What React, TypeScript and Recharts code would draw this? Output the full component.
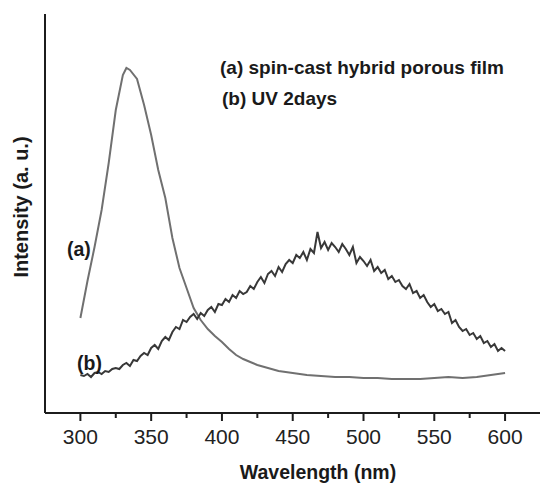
import { LineChart, Line, XAxis, YAxis } from 'recharts';

// wavelength (nm) grid for curve (a), smooth spectrum
const A_WL = [
  300, 305, 310, 315, 320, 325, 330, 332.5, 335, 340, 345, 350, 355, 360, 365, 370, 375, 380, 385, 390,
  395, 400, 405, 410, 415, 420, 425, 430, 440, 450, 460, 470, 480, 490, 500, 510, 520, 530, 540, 550,
  560, 570, 580, 590, 600,
];
const A_VAL = [
  95, 132, 166, 203, 250, 303, 338, 345, 343, 334, 308, 278, 243, 215, 175, 145, 125, 105, 93, 84,
  77, 71, 64, 58, 54, 51, 48, 46, 42, 40, 38, 37, 36, 36, 35, 35, 34, 34, 34, 35,
  36, 35, 36, 38, 40,
];

// curve (b) sampled every 2.5 nm from 300 to 600
const B_START = 300;
const B_STEP = 2.5;
const B_VAL = [
  38, 37, 39, 36, 40, 41, 39, 42, 41, 44,
  45, 44, 48, 50, 47, 53, 52, 57, 60, 58,
  65, 68, 64, 72, 76, 73, 81, 86, 84, 93,
  91, 96, 99, 94, 100, 97, 103, 106, 101, 109,
  108, 114, 111, 118, 115, 122, 119, 121, 127, 124,
  131, 136, 130, 139, 142, 137, 146, 141, 149, 153,
  150, 158, 155, 161, 153, 164, 160, 181, 165, 171,
  163, 170, 166, 161, 169, 164, 158, 166, 150, 156,
  152, 147, 153, 142, 146, 140, 143, 134, 137, 131,
  133, 127, 124, 129, 120, 122, 115, 118, 111, 106,
  109, 102, 104, 99, 101, 90, 93, 86, 82, 84,
  78, 80, 74, 77, 70, 72, 66, 69, 62, 65,
  62,
];

const X_TICKS = [300, 325, 350, 375, 400, 425, 450, 475, 500, 525, 550, 575, 600];

const dataA = A_WL.map((wl, i) => ({ wl, v: A_VAL[i] }));
const dataB = B_VAL.map((v, i) => ({ wl: B_START + i * B_STEP, v }));

const AXIS = '#1c1c1c';
const FONT = '"Liberation Sans", Arial, sans-serif';

function WaveTick(props: any) {
  const { x, y, payload } = props;
  const major = payload.value % 50 === 0;
  return (
    <g>
      <line x1={x} x2={x} y1={y} y2={y + (major ? 8 : 5)} stroke={AXIS} strokeWidth={2} />
      {major && (
        <text x={x} y={y + 31} textAnchor="middle" fontSize={21} fontFamily={FONT} fill="#222">
          {payload.value}
        </text>
      )}
    </g>
  );
}

export default function App() {
  return (
    <div
      style={{
        position: 'absolute',
        left: 0,
        top: 0,
        width: 540,
        height: 484,
        overflow: 'hidden',
        background: '#fff',
      }}
    >
      <LineChart width={592} height={484} margin={{ top: 14, right: 2, bottom: 0, left: 0 }}>
        <XAxis
          dataKey="wl"
          type="number"
          domain={[275, 660]}
          ticks={X_TICKS}
          interval={0}
          height={71}
          tickSize={0}
          tickMargin={0}
          tickLine={false}
          axisLine={{ stroke: AXIS, strokeWidth: 2 }}
          tick={<WaveTick />}
        />
        <XAxis
          xAxisId="top"
          orientation="top"
          type="number"
          domain={[275, 660]}
          height={0}
          tick={false}
          tickLine={false}
          axisLine={{ stroke: AXIS, strokeWidth: 2 }}
        />
        <YAxis
          type="number"
          domain={[0, 399]}
          width={45}
          tick={false}
          tickLine={false}
          axisLine={{ stroke: AXIS, strokeWidth: 2 }}
        />
        <Line
          data={dataA}
          dataKey="v"
          type="linear"
          stroke="#707070"
          strokeWidth={2}
          dot={false}
          isAnimationActive={false}
        />
        <Line
          data={dataB}
          dataKey="v"
          type="linear"
          stroke="#383838"
          strokeWidth={2}
          dot={false}
          isAnimationActive={false}
        />
      </LineChart>
      <svg
        width={540}
        height={484}
        style={{ position: 'absolute', left: 0, top: 0, pointerEvents: 'none' }}
      >
        <g fontFamily={FONT} fontWeight="bold" fill="#1a1a1a">
          <text x={220} y={74} fontSize={19}>(a) spin-cast hybrid porous film</text>
          <text x={222} y={105} fontSize={19}>(b) UV 2days</text>
          <text x={67} y={256} fontSize={19.5}>(a)</text>
          <text x={77} y={370} fontSize={19.5}>(b)</text>
          <text x={318} y={479} fontSize={19.5} textAnchor="middle">Wavelength (nm)</text>
          <text
            x={28}
            y={207}
            fontSize={20}
            textAnchor="middle"
            transform="rotate(-90 28 207)"
          >
            Intensity (a. u.)
          </text>
        </g>
      </svg>
    </div>
  );
}
